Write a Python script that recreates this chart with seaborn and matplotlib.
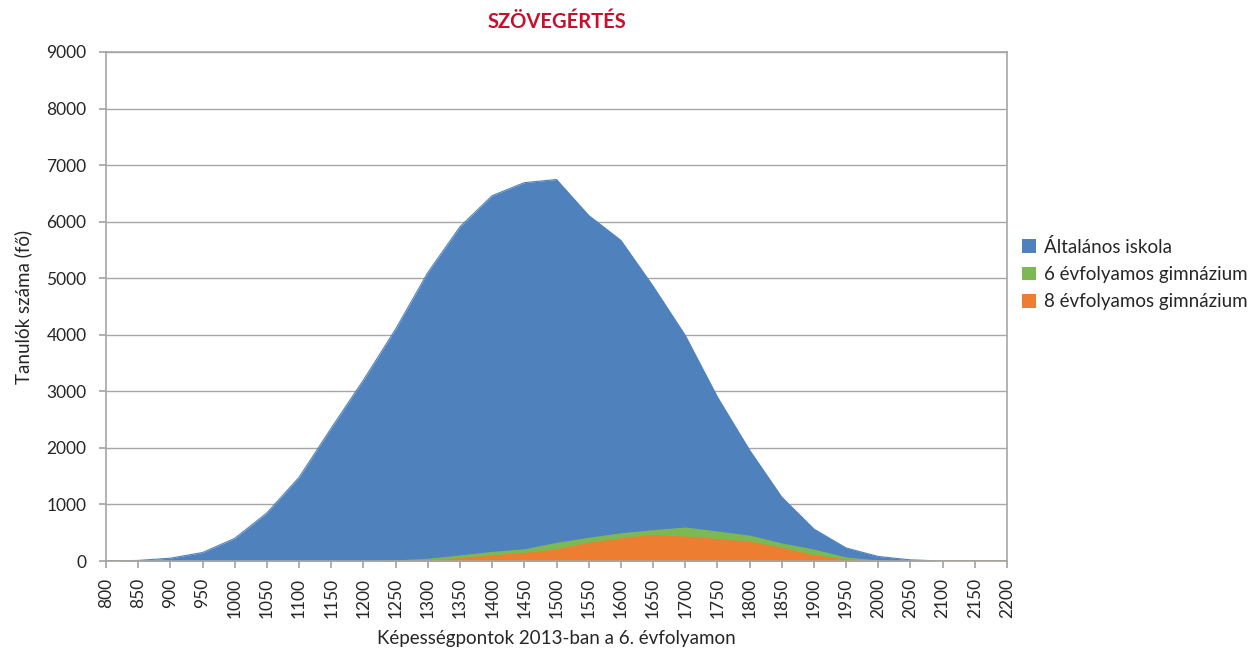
import matplotlib
matplotlib.use("Agg")
import matplotlib.pyplot as plt
import seaborn as sns
import numpy as np
import pandas as pd
from matplotlib.patches import Patch

points = list(range(800, 2201, 50))
altalanos = [0, 10, 50, 150, 400, 850, 1480, 2350, 3200, 4100, 5100, 5910, 6460, 6690, 6745,
             6110, 5670, 4860, 3990, 2900, 1960, 1130, 565, 230, 80, 20, 0, 0, 0]
gimn6 = [0, 0, 0, 0, 0, 0, 0, 5, 10, 20, 48, 108, 170, 217, 331,
         420, 500, 554, 602, 530, 458, 320, 210, 72, 18, 0, 0, 0, 0]
gimn8 = [0, 0, 0, 0, 0, 0, 0, 0, 0, 8, 24, 60, 108, 150, 217,
         331, 410, 470, 440, 398, 350, 240, 108, 36, 12, 0, 0, 0, 0]

series_names = ["Általános iskola", "6 évfolyamos gimnázium", "8 évfolyamos gimnázium"]
colors = ["#4F81BD", "#7DB953", "#ED7D31"]

df = pd.DataFrame({"pont": points, series_names[0]: altalanos,
                   series_names[1]: gimn6, series_names[2]: gimn8})
long = df.melt(id_vars="pont", var_name="sorozat", value_name="fo")

sns.set_theme(style="white")
plt.rcParams["font.family"] = ["Lato", "DejaVu Sans"]

fig = plt.figure(figsize=(12.57, 6.55), dpi=100)
ax = fig.add_axes([106 / 1257, 1 - 561 / 655, (1007 - 106) / 1257, (561 - 52) / 655])

sns.lineplot(data=long, x="pont", y="fo", hue="sorozat", palette=colors,
             hue_order=series_names, ax=ax, legend=False, linewidth=0.8)
for name, c in zip(series_names, colors):
    ax.fill_between(df["pont"], df[name], color=c, linewidth=0, zorder=2)

grid_c = "#A6A6A6"
ax.set_xlim(800, 2200)
ax.set_ylim(0, 9000)
ax.set_yticks(range(0, 9001, 1000))
ax.set_xticks(points)
ax.set_xticklabels([str(p) for p in points], rotation=90, fontsize=12.5)
ax.tick_params(axis="y", labelsize=12.5, length=5, color=grid_c, direction="out", left=True, pad=9)
ax.tick_params(axis="x", length=5, color=grid_c, direction="out", bottom=True, pad=7)
ax.yaxis.grid(True, color=grid_c, linewidth=1)
ax.set_axisbelow(True)
for s in ax.spines.values():
    s.set_color(grid_c)
    s.set_linewidth(1.2)

ax.set_xlabel("Képességpontok 2013-ban a 6. évfolyamon", fontsize=13.5, labelpad=9)
ax.set_ylabel("Tanulók száma (fő)", fontsize=13.5, labelpad=10)
fig.text((106 + 1007) / 2 / 1257, 1 - 22 / 655, "SZÖVEGÉRTÉS", ha="center", va="center",
         fontsize=14.5, fontweight="bold", color="#C8102E")

handles = [Patch(facecolor=c, edgecolor="none") for c in colors]
fig.legend(handles, series_names, loc="center left", bbox_to_anchor=(1014 / 1257, 1 - 274 / 655),
           frameon=False, fontsize=13.5, handlelength=0.75, handleheight=0.75,
           handletextpad=0.45, labelspacing=0.55, borderaxespad=0)

fig.savefig("out.png", dpi=100)
